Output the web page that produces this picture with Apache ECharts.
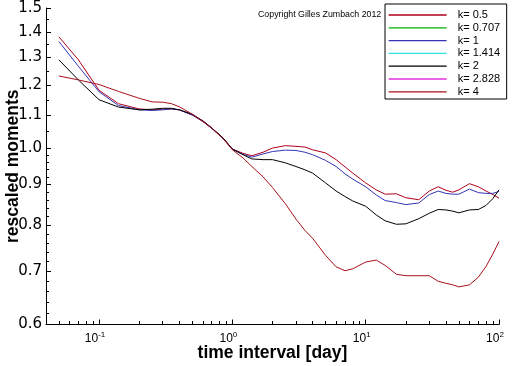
<!DOCTYPE html>
<html><head><meta charset="utf-8">
<script src="https://cdn.jsdelivr.net/npm/echarts@6/dist/echarts.min.js"></script>
<style>html,body{margin:0;padding:0;background:#fff}#c{width:512px;height:366px}</style>
</head><body><div id="c"></div>
<script>
// ---- data ----
const times = [0.05, 0.07, 0.1, 0.14, 0.2, 0.25, 0.3, 0.35, 0.4, 0.5, 0.6, 0.7, 0.85, 1, 1.2, 1.4, 1.7, 2, 2.5, 3, 3.5, 4, 5, 6, 7, 8, 10, 12, 14, 17, 20, 25, 30, 35, 40, 45, 50, 60, 70, 80, 90, 100];
const k05 = [1.380, 1.291, 1.182, 1.137, 1.120, 1.117, 1.119, 1.120, 1.117, 1.101, 1.082, 1.060, 1.030, 0.997, 0.985, 0.978, 0.988, 1.000, 1.007, 1.005, 1.003, 0.995, 0.986, 0.967, 0.947, 0.930, 0.904, 0.886, 0.875, 0.876, 0.866, 0.861, 0.883, 0.894, 0.885, 0.880, 0.886, 0.902, 0.894, 0.883, 0.874, 0.865];
const k0707 = [];
const k1 = [1.361, 1.267, 1.177, 1.131, 1.117, 1.115, 1.117, 1.120, 1.117, 1.100, 1.080, 1.059, 1.028, 0.997, 0.982, 0.974, 0.983, 0.990, 0.994, 0.993, 0.988, 0.981, 0.965, 0.948, 0.928, 0.914, 0.894, 0.873, 0.859, 0.854, 0.849, 0.853, 0.874, 0.883, 0.877, 0.875, 0.875, 0.888, 0.879, 0.877, 0.877, 0.882];
const k1414 = [];
const k2 = [1.291, 1.218, 1.150, 1.126, 1.117, 1.119, 1.122, 1.122, 1.117, 1.103, 1.082, 1.060, 1.030, 0.997, 0.981, 0.969, 0.967, 0.967, 0.958, 0.948, 0.939, 0.930, 0.904, 0.883, 0.869, 0.858, 0.845, 0.824, 0.810, 0.802, 0.803, 0.815, 0.828, 0.837, 0.836, 0.833, 0.829, 0.836, 0.837, 0.847, 0.864, 0.886];
const k2828 = [];
const k4 = [1.232, 1.218, 1.202, 1.178, 1.155, 1.143, 1.142, 1.137, 1.127, 1.103, 1.080, 1.059, 1.028, 0.995, 0.972, 0.948, 0.920, 0.892, 0.851, 0.814, 0.788, 0.770, 0.733, 0.709, 0.701, 0.705, 0.719, 0.723, 0.712, 0.694, 0.691, 0.691, 0.691, 0.680, 0.676, 0.673, 0.669, 0.673, 0.688, 0.710, 0.736, 0.763];
const seriesNames = ['k= 0.5', 'k= 0.707', 'k= 1', 'k= 1.414', 'k= 2', 'k= 2.828', 'k= 4'];
const seriesValues = [k05, k0707, k1, k1414, k2, k2828, k4];
const seriesColors = ['#b0001c', '#00b000', '#3434b4', '#30e0e0', '#000000', '#e030e0', '#a8101e'];
const xMajorTicks = [0.1, 1, 10, 100];
const xMinorTicks = [0.05, 0.06, 0.07, 0.08, 0.09, 0.2, 0.3, 0.4, 0.5, 0.6, 0.7, 0.8, 0.9, 2, 3, 4, 5, 6, 7, 8, 9, 20, 30, 40, 50, 60, 70, 80, 90];
const yMajorTicks = [0.6, 0.7, 0.8, 0.9, 1.0, 1.1, 1.2, 1.3, 1.4, 1.5];
const yMinorTicks = [0.62, 0.64, 0.66, 0.68, 0.72, 0.74, 0.76, 0.78, 0.82, 0.84, 0.86, 0.88, 0.92, 0.94, 0.96, 0.98, 1.05, 1.15, 1.25, 1.35, 1.45];
const xTitle = 'time interval [day]';
const yTitle = 'rescaled moments';
const copyright = 'Copyright Gilles Zumbach 2012';

// ---- chart ----
const FONT = 'Liberation Sans';
const gridL = 46, gridR = 13, gridT = 8, gridB = 41.5;
const W = 512, H = 366;
const gridW = W - gridL - gridR, gridH = H - gridT - gridB;
const xMin = 0.04, xMax = 100, yMin = 0.6, yMax = 1.5;

const chart = echarts.init(document.getElementById('c'), null, {renderer: 'canvas'});
const series = seriesNames.map((name, i) => ({
  name: name,
  type: 'line',
  xAxisIndex: 0, yAxisIndex: 0,
  data: seriesValues[i].map((v, j) => [times[j], v]),
  symbol: 'none', showSymbol: false,
  lineStyle: {width: 1, color: seriesColors[i]},
  itemStyle: {color: seriesColors[i]},
  silent: true,
  z: 2 + i
}));

chart.setOption({
  animation: false,
  backgroundColor: '#fff',
  title: {
    text: copyright, left: 258, top: 10, padding: 0,
    textStyle: {fontSize: 8.8, fontWeight: 'normal', fontFamily: FONT, color: '#000'}
  },
  legend: {
    data: seriesNames,
    orient: 'vertical',
    left: 385, top: 4,
    padding: [5.5, 6.5, 1.7, 3],
    itemWidth: 58, itemHeight: 11, itemGap: 1.8,
    borderColor: '#000', borderWidth: 1, borderRadius: 0,
    backgroundColor: '#fff',
    selectedMode: false,
    itemStyle: {opacity: 0},
    lineStyle: {width: 1.3},
    textStyle: {fontSize: 11, fontFamily: FONT, color: '#000', padding: [0, 0, 0, 6]}
  },
  grid: {left: gridL, right: gridR, top: gridT, bottom: gridB, containLabel: false, outerBoundsMode: 'none'},
  xAxis: [{
    type: 'log', logBase: 10, min: xMin, max: xMax,
    position: 'bottom',
    name: xTitle, nameLocation: 'middle', nameGap: 20, nameMoveOverlap: false,
    nameTextStyle: {fontSize: 17.5, fontWeight: 'bold', fontFamily: FONT, color: '#000'},
    axisLine: {show: true, lineStyle: {color: '#000', width: 1}},
    axisTick: {show: true, inside: true, length: 5, customValues: xMajorTicks, lineStyle: {color: '#000', width: 1}},
    axisLabel: {
      show: true, margin: 6, customValues: xMajorTicks,
      padding: [0, 8, 0, 0],
      formatter: function (v) { return '{b|10}{s|' + Math.round(Math.log10(v)) + '}'; },
      rich: {
        b: {fontSize: 12, fontFamily: FONT, color: '#000', lineHeight: 14, verticalAlign: 'bottom'},
        s: {fontSize: 8, fontFamily: FONT, color: '#000', lineHeight: 8, verticalAlign: 'top'}
      }
    },
    splitLine: {show: false}, minorTick: {show: false}
  }, {
    type: 'log', logBase: 10, min: xMin, max: xMax,
    position: 'top', offset: -gridH,
    axisLine: {show: false},
    axisTick: {show: true, inside: false, length: 3.5, customValues: xMinorTicks, lineStyle: {color: '#000', width: 1}},
    axisLabel: {show: false},
    splitLine: {show: false}
  }],
  yAxis: [{
    type: 'log', logBase: 10, min: yMin, max: yMax,
    position: 'left',
    name: yTitle, nameLocation: 'middle', nameGap: 24, nameRotate: 90, nameMoveOverlap: false,
    nameTextStyle: {fontSize: 17.5, fontWeight: 'bold', fontFamily: FONT, color: '#000'},
    axisLine: {show: true, lineStyle: {color: '#000', width: 1}},
    axisTick: {show: true, inside: true, length: 5, customValues: yMajorTicks, lineStyle: {color: '#000', width: 1}},
    axisLabel: {
      show: true, margin: 4, customValues: yMajorTicks,
      fontSize: 15, fontFamily: 'DejaVu Sans', color: '#000',
      formatter: function (v) { return (+v).toFixed(1); }
    },
    splitLine: {show: false}, minorTick: {show: false}
  }, {
    type: 'log', logBase: 10, min: yMin, max: yMax,
    position: 'right', offset: -gridW,
    axisLine: {show: false},
    axisTick: {show: true, inside: false, length: 3, customValues: yMinorTicks, lineStyle: {color: '#000', width: 1}},
    axisLabel: {show: false},
    splitLine: {show: false}
  }],
  series: series
});
</script>
</body></html>
